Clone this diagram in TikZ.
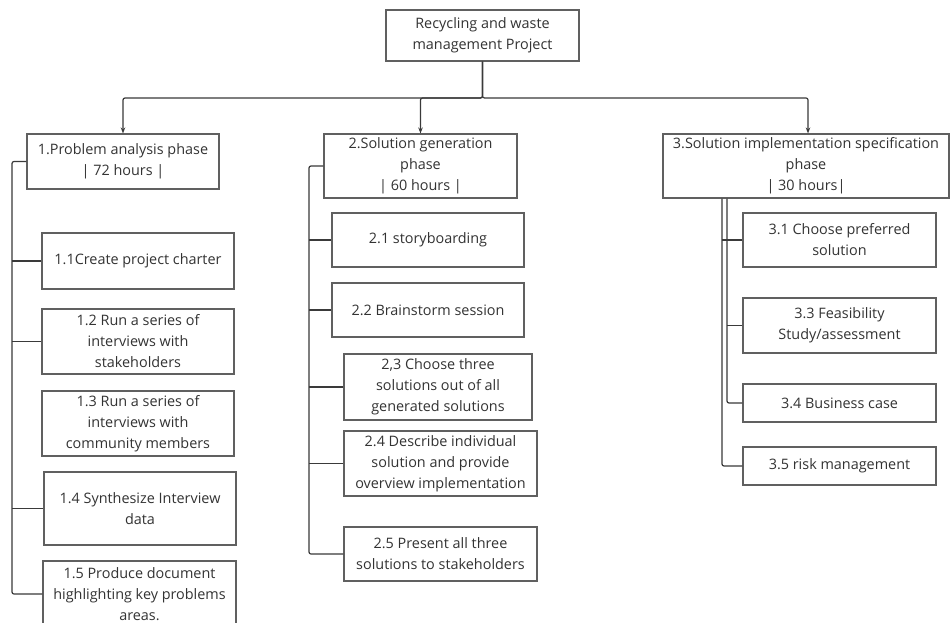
\documentclass[tikz,border=0pt]{standalone}
\usepackage{fontspec}
\setmainfont{Open Sans}
\usetikzlibrary{arrows.meta}
\definecolor{boxgray}{HTML}{606060}
\definecolor{linegray}{HTML}{3A3A3A}
\begin{document}
\begin{tikzpicture}[x=1pt,y=-1pt,
    task/.style={draw=boxgray,line width=1.1pt,fill=white,align=center,inner sep=1pt,
      font=\fontsize{14.4}{21}\selectfont,text=black!80},
    conn/.style={draw=linegray,line width=1.2pt,rounded corners=2pt},
    arr/.style={conn,-{Stealth[length=6pt,width=4.5pt]}}]
    \clip (0,0) rectangle (950,623);
    \fill[white] (0,0) rectangle (950,623);
    % top and phases
    \node[task,minimum width=193pt,minimum height=51pt] (root) at (482.5,35.5) {Recycling and waste\\management Project};
    \node[task,minimum width=192pt,minimum height=55pt] (p1) at (123,161.5) {1.Problem analysis phase\\| 72 hours |};
    \node[task,minimum width=193pt,minimum height=64pt] (p2) at (420.5,166) {2.Solution generation\\phase\\| 60 hours |};
    \node[task,minimum width=286pt,minimum height=64pt] (p3) at (806,166) {3.Solution implementation specification\\phase\\| 30 hours|};
    % phase 1
    \node[task,minimum width=192pt,minimum height=56pt] (t11) at (138,261) {1.1Create project charter};
    \node[task,minimum width=192pt,minimum height=65pt] (t12) at (138,341.5) {1.2 Run a series of\\interviews with\\stakeholders};
    \node[task,minimum width=192pt,minimum height=65pt] (t13) at (138,423.5) {1.3 Run a series of\\interviews with\\community members};
    \node[task,minimum width=192pt,minimum height=73pt] (t14) at (140,508.5) {1.4 Synthesize Interview\\data};
    \node[task,minimum width=193pt,minimum height=66pt] (t15) at (139.5,594) {1.5 Produce document\\highlighting key problems\\areas.};
    % phase 2
    \node[task,minimum width=192pt,minimum height=54pt] (t21) at (428,240) {2.1 storyboarding};
    \node[task,minimum width=192pt,minimum height=54pt] (t22) at (428,310) {2.2 Brainstorm session};
    \node[task,minimum width=188pt,minimum height=66pt] (t23) at (438,387) {2,3 Choose three\\solutions out of all\\generated solutions};
    \node[task,minimum width=193pt,minimum height=65pt] (t24) at (440.5,463.5) {2.4 Describe individual\\solution and provide\\overview implementation};
    \node[task,minimum width=193pt,minimum height=54pt] (t25) at (440.5,554) {2.5 Present all three\\solutions to stakeholders};
    % phase 3
    \node[task,minimum width=193pt,minimum height=54pt] (t31) at (839.5,240) {3.1 Choose preferred\\solution};
    \node[task,minimum width=193pt,minimum height=55pt] (t33) at (839.5,325.5) {3.3 Feasibility\\Study/assessment};
    \node[task,minimum width=193pt,minimum height=38pt] (t34) at (839.5,403) {3.4 Business case};
    \node[task,minimum width=193pt,minimum height=38pt] (t35) at (839.5,466) {3.5 risk management};
    % arrows from the project
    \coordinate (bar) at (0,98);
    \draw[arr] (root.south) |- (bar -| p1.north) -- (p1.north);
    \draw[arr] (root.south) |- (bar -| p2.north) -- (p2.north);
    \draw[arr] (root.south) |- (bar -| 808,0) -- (p3.north -| 808,0);
    % brackets
    \coordinate (b1) at (12,0);
    \coordinate (b2) at (309,0);
    \coordinate (b3a) at (722,0);
    \coordinate (b3b) at (727,0);
    \draw[conn] (p1.west) -| (b1 |- t15.west) -- (t15.west);
    \foreach \t in {t11,t12,t14}
        \draw[conn] (\t.west) -- (\t.west -| b1);
    \draw[conn] (p2.west) -| (b2 |- t25.west) -- (t25.west);
    \foreach \t in {t21,t22,t23,t24}
        \draw[conn] (\t.west) -- (\t.west -| b2);
    \draw[conn] (p3.south -| b3a) |- (t35.west);
    \draw[conn] (t31.west) -- (t31.west -| b3a);
    \draw[conn] (p3.south -| b3b) |- (t34.west);
    \draw[conn] (t33.west) -- (t33.west -| b3b);
\end{tikzpicture}
\end{document}
